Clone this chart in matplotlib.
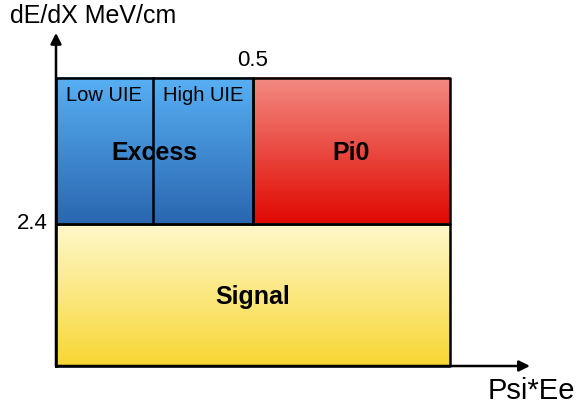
import numpy as np
import matplotlib
matplotlib.use("Agg")
import matplotlib.pyplot as plt
from matplotlib.colors import LinearSegmentedColormap

plt.rcParams['font.family'] = ['Liberation Sans', 'DejaVu Sans']

# region boundaries (Psi*Ee on x, dE/dX on y)
x_edges = [0.0, 0.245, 0.5, 1.0]   # low UIE | high UIE | pi0 ... end
y_edges = [0.0, 2.4, 4.87]          # signal | excess/pi0 top
x_tip = 1.203
y_tip = 5.63

# (x0, x1, y0, y1, top colour, bottom colour)
regions = {
    "excess": (x_edges[0], x_edges[2], y_edges[1], y_edges[2], "#58b0f4", "#2966b0"),
    "pi0":    (x_edges[2], x_edges[3], y_edges[1], y_edges[2], "#f38b82", "#e00800"),
    "signal": (x_edges[0], x_edges[3], y_edges[0], y_edges[1], "#fef9cd", "#f8d633"),
}
labels = {"excess": "Excess", "pi0": "Pi0", "signal": "Signal"}

fig = plt.figure(figsize=(5.76, 4.11), dpi=100)
ax = fig.add_axes([0, 0, 1, 1])
ax.set_xlim(-56 / 394, 520 / 394)
ax.set_ylim(-45 / 59.17, 366 / 59.17)
ax.axis('off')

grad = np.linspace(0, 1, 256).reshape(-1, 1)
for key, (x0, x1, y0, y1, ctop, cbot) in regions.items():
    cmap = LinearSegmentedColormap.from_list(key, [ctop, cbot])
    ax.imshow(grad, cmap=cmap, extent=[x0, x1, y0, y1], origin='upper',
              aspect='auto', interpolation='bilinear', zorder=1)
    ax.plot([x0, x1, x1, x0, x0], [y0, y0, y1, y1, y0], color='black', lw=1.8, zorder=4)
    ax.text((x0 + x1) / 2, (y0 + y1) / 2 - 0.03, labels[key],
            ha='center', va='center', fontsize=18, fontweight='bold', zorder=3)

# low / high UIE split
ax.plot([x_edges[1], x_edges[1]], [y_edges[1], y_edges[2]], color='black', lw=1.8, zorder=4)
ax.text((x_edges[0] + x_edges[1]) / 2, y_edges[2] - 0.29, "Low UIE",
        ha='center', va='center', fontsize=14.5, zorder=3)
ax.text((x_edges[1] + x_edges[2]) / 2, y_edges[2] - 0.29, "High UIE",
        ha='center', va='center', fontsize=14.5, zorder=3)

# axes with arrows
arrow = dict(arrowstyle='-|>', lw=1.8, color='black', mutation_scale=16, shrinkA=0, shrinkB=0)
ax.annotate('', xy=(0, y_tip), xytext=(0, 0), arrowprops=arrow, zorder=5)
ax.annotate('', xy=(x_tip, 0), xytext=(0, 0), arrowprops=arrow, zorder=5)

ax.text(-0.117, 5.91, "dE/dX MeV/cm", ha='left', va='center', fontsize=18)
ax.text(1.096, -0.42, "Psi*Ee", ha='left', va='center', fontsize=21)
ax.text(0.5, y_edges[2] + 0.3, "0.5", ha='center', va='center', fontsize=16)
ax.text(-0.02, y_edges[1], "2.4", ha='right', va='center', fontsize=16)

fig.savefig("out.png", dpi=100)
